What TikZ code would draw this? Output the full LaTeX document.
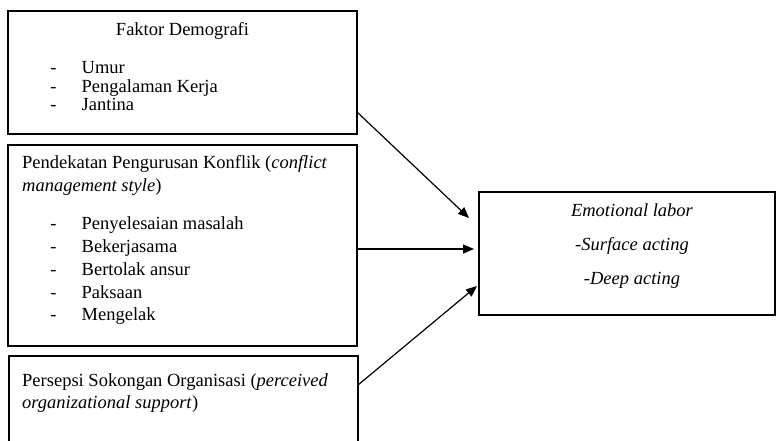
\documentclass[tikz,border=0pt]{standalone}
\usepackage{fontspec}
\setmainfont{Liberation Serif}
\usepackage{tikz}
\usetikzlibrary{arrows,arrows.meta}
\tikzstyle{es} = [-{Triangle[length=11pt,width=9pt]}, line width=1.2pt]
\tikzstyle{box} = [draw, line width=1.4pt, inner sep=0pt]
\tikzstyle{txt} = [anchor=base west, inner sep=0pt]
\tikzstyle{ctxt} = [anchor=base, inner sep=0pt]

\begin{document}
\begin{tikzpicture}[yscale=-1,x=1pt,y=1pt,every node/.style={font=\fontsize{18.5}{21}\selectfont}]
			\useasboundingbox (0,0) rectangle (776,440);
			% boxes
			\node[box,minimum width=349pt,minimum height=123pt] (demo) at (182.5,72.5) {};
			\node[box,minimum width=349pt,minimum height=201pt] (konflik) at (182.5,245.5) {};
			\node[box,minimum width=349pt,minimum height=90pt] (persepsi) at (183.5,401) {};
			\node[box,minimum width=296pt,minimum height=123pt] (emo) at (627,253.5) {};
			% box texts
			\node[ctxt] (demo title) at (182.5,35) {Faktor Demografi};
			\foreach \y/\t [count=\i] in {73.5/Umur,92/Pengalaman Kerja,110.5/Jantina}{
				\node[ctxt] (demo dash\i) at (53.5,\y) {-};
				\node[txt] (demo item\i) at (81.5,\y) {\t};
			}
			\node[txt] (konflik title1) at (22,168.5) {Pendekatan Pengurusan Konflik (\textit{conflict}};
			\node[txt] (konflik title2) at (22,191) {\textit{management style})};
			\foreach \y/\t [count=\i] in {229/Penyelesaian masalah,252/Bekerjasama,275/Bertolak ansur,298/Paksaan,320/Mengelak}{
				\node[ctxt] (konflik dash\i) at (53.5,\y) {-};
				\node[txt] (konflik item\i) at (81.5,\y) {\t};
			}
			\node[txt] (persepsi title1) at (22,386.5) {Persepsi Sokongan Organisasi (\textit{perceived}};
			\node[txt] (persepsi title2) at (22,408.5) {\textit{organizational support})};
			\node[ctxt] (emo title) at (632,216) {\textit{Emotional labor}};
			\node[ctxt] (emo surface) at (632,250) {\textit{-Surface acting}};
			\node[ctxt] (emo deep) at (632,284) {\textit{-Deep acting}};
			% arrows
			\coordinate (demo out) at (357,112);
			\coordinate (konflik out) at (357,249);
			\coordinate (persepsi out) at (358,385);
			\coordinate (emo in1) at (469,218);
			\coordinate (emo in2) at (474,249);
			\coordinate (emo in3) at (477,286);
			\draw[es] (demo out) -- (emo in1);
			\draw[es] (konflik out) -- (emo in2);
			\draw[es] (persepsi out) -- (emo in3);
		\end{tikzpicture}
\end{document}
